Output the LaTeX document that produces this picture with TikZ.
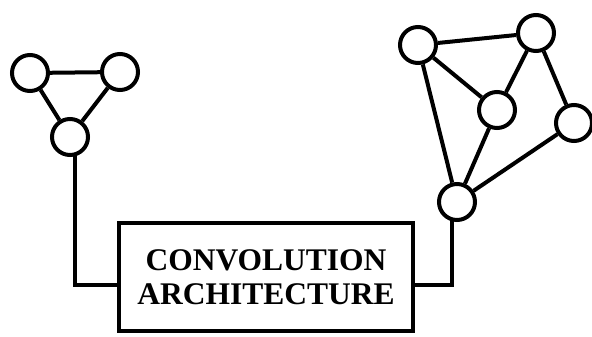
\documentclass[tikz,border=0pt]{standalone}
\usepackage{fontspec}
\setmainfont{Liberation Serif}
\tikzset{
  vertex/.style={draw, circle, line width=4pt, minimum size=36pt, inner sep=0pt},
  convbox/.style={draw, line width=4pt, minimum width=294pt, minimum height=108pt,
    align=center, font=\fontsize{31.5}{34}\selectfont\bfseries},
}
\begin{document}
\begin{tikzpicture}[x=1pt, y=-1pt, line width=4pt]
      \useasboundingbox (0,0) rectangle (592,337);
      \draw
        (30,73) node[vertex] (a){}
        (120,72) node[vertex] (b){}
        (70,137) node[vertex] (c){}
        (418,45) node[vertex] (n1){}
        (536,33) node[vertex] (n2){}
        (497,110) node[vertex] (n3){}
        (574,123) node[vertex] (n4){}
        (457,202) node[vertex] (n5){}
        (266,277) node[convbox] (conv){CONVOLUTION\\ARCHITECTURE};
      \begin{scope}[-]
        \draw (a) to (b);
        \draw (a) to (c);
        \draw (b) to (c);
        \draw (n1) to (n2);
        \draw (n1) to (n3);
        \draw (n1) to (n5);
        \draw (n2) to (n3);
        \draw (n2) to (n4);
        \draw (n3) to (n5);
        \draw (n4) to (n5);
        \draw (c.-75) |- ([yshift=-8pt]conv.west);
        \draw (n5.-104) |- ([yshift=-8pt]conv.east);
      \end{scope}
    \end{tikzpicture}
\end{document}
